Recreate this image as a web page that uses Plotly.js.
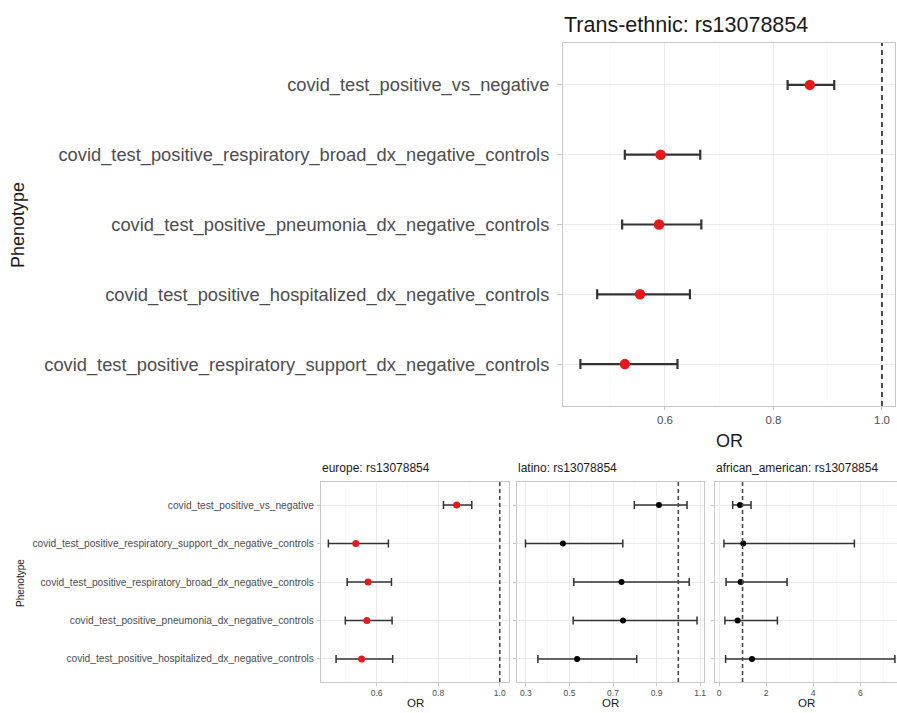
<!DOCTYPE html>
<html>
<head>
<meta charset="utf-8">
<script src="https://cdn.plot.ly/plotly-3.0.1.min.js"></script>
<style>html,body{margin:0;padding:0;background:#fff;}#chart{width:897px;height:713px;}</style>
</head>
<body>
<div id="chart"></div>
<script>
// ---- Data ----
const topCats = [
  "covid_test_positive_vs_negative",
  "covid_test_positive_respiratory_broad_dx_negative_controls",
  "covid_test_positive_pneumonia_dx_negative_controls",
  "covid_test_positive_hospitalized_dx_negative_controls",
  "covid_test_positive_respiratory_support_dx_negative_controls"
];
const topOR = [0.867, 0.592, 0.589, 0.554, 0.526];
const topLo = [0.826, 0.526, 0.521, 0.475, 0.444];
const topHi = [0.912, 0.665, 0.667, 0.646, 0.623];

const subCats = [
  "covid_test_positive_vs_negative",
  "covid_test_positive_respiratory_support_dx_negative_controls",
  "covid_test_positive_respiratory_broad_dx_negative_controls",
  "covid_test_positive_pneumonia_dx_negative_controls",
  "covid_test_positive_hospitalized_dx_negative_controls"
];
const eurOR = [0.860, 0.532, 0.572, 0.568, 0.551];
const eurLo = [0.817, 0.443, 0.504, 0.498, 0.468];
const eurHi = [0.909, 0.638, 0.648, 0.650, 0.652];

const latOR = [0.911, 0.470, 0.739, 0.746, 0.535];
const latLo = [0.798, 0.298, 0.520, 0.517, 0.355];
const latHi = [1.040, 0.745, 1.050, 1.086, 0.809];

const afrOR = [0.89, 1.03, 0.92, 0.79, 1.40];
const afrLo = [0.58, 0.21, 0.30, 0.25, 0.28];
const afrHi = [1.36, 5.75, 2.89, 2.48, 7.47];

const panelTitles = ["Trans-ethnic: rs13078854", "europe: rs13078854", "latino: rs13078854", "african_american: rs13078854"];

// ---- Helpers ----
const W = 897, H = 713;
const px = v => v / W;
const py = v => 1 - v / H;
const FONT = "Liberation Sans, Arial, sans-serif";

function trace(cats, or, lo, hi, xa, ya, color, size, thick, capw) {
  return {
    type: "scatter", mode: "markers",
    x: or, y: cats, xaxis: xa, yaxis: ya,
    marker: {color: color, size: size},
    error_x: {
      type: "data", symmetric: false,
      array: or.map((v, i) => hi[i] - v),
      arrayminus: or.map((v, i) => v - lo[i]),
      color: "#333333", thickness: thick, width: capw
    },
    showlegend: false, hoverinfo: "x+y"
  };
}

const data = [
  trace(topCats, topOR, topLo, topHi, "x", "y", "#e41a1c", 10.5, 2.2, 5),
  trace(subCats, eurOR, eurLo, eurHi, "x2", "y2", "#e41a1c", 7, 1.5, 4),
  trace(subCats, latOR, latLo, latHi, "x3", "y3", "#000000", 6, 1.5, 4),
  trace(subCats, afrOR, afrLo, afrHi, "x4", "y4", "#000000", 6, 1.5, 4)
];

function xax(dom, range, dtick, tick0, mdtick, anchor, fs) {
  return {
    domain: dom, range: range, anchor: anchor,
    dtick: dtick, tick0: tick0, tickformat: dtick >= 1 ? "d" : ".1f",
    showgrid: true, gridcolor: "#ebebeb", gridwidth: 1,
    minor: {dtick: mdtick, tick0: tick0, showgrid: true, gridcolor: "#f5f5f5", gridwidth: 0.6, ticks: ""},
    zeroline: false,
    showline: true, mirror: true, linecolor: "#c8c8c8", linewidth: 1,
    ticks: "outside", ticklen: 3, tickcolor: "#c8c8c8",
    tickfont: {family: FONT, size: fs, color: "#4d4d4d"},
    fixedrange: true
  };
}
function yax(dom, anchor, showLabels, fs, tl, standoff) {
  return {
    domain: dom, anchor: anchor, type: "category",
    range: [4.6, -0.6],
    showgrid: true, gridcolor: "#ebebeb", gridwidth: 1,
    zeroline: false,
    showline: true, mirror: true, linecolor: "#c8c8c8", linewidth: 1,
    ticks: "outside", ticklen: tl, tickcolor: "#c8c8c8",
    ticklabelstandoff: standoff,
    showticklabels: showLabels,
    tickfont: {family: FONT, size: fs, color: "#4d4d4d"},
    fixedrange: true
  };
}

const topY = [py(406), py(43)];
const botY = [py(682), py(482)];

const layout = {
  width: W, height: H,
  margin: {l: 0, r: 0, t: 0, b: 0},
  paper_bgcolor: "#ffffff", plot_bgcolor: "#ffffff",
  font: {family: FONT},
  showlegend: false,
  xaxis: xax([px(563), px(895)], [0.412, 1.024], 0.2, 0, 0.1, "y", 11.5),
  yaxis: yax(topY, "x", true, 18.3, 5, 4),
  xaxis2: xax([px(321), px(509)], [0.419, 1.030], 0.2, 0, 0.1, "y2", 8.5),
  yaxis2: yax(botY, "x2", true, 10.2, 3, 1),
  xaxis3: xax([px(517), px(704)], [0.259, 1.118], 0.2, 0.3, 0.1, "y3", 8.5),
  yaxis3: yax(botY, "x3", false, 10.2, 3, 1),
  xaxis4: xax([px(715), 1], [-0.17, 7.56], 2, 0, 1, "y4", 8.5),
  yaxis4: yax(botY, "x4", false, 10.2, 3, 1),
  shapes: ["x", "x2", "x3", "x4"].map((xa, i) => ({
    type: "line", xref: xa, yref: (i === 0 ? "y" : "y" + (i + 1)) + " domain",
    x0: 1, x1: 1, y0: 0, y1: 1,
    line: {color: "#4a4a4a", width: i === 0 ? 2 : 1.6, dash: i === 0 ? "5px,4px" : "4px,3px"}
  })),
  annotations: [
    {text: panelTitles[0], x: px(562), y: py(25), xref: "paper", yref: "paper", xanchor: "left", yanchor: "middle", showarrow: false, font: {family: FONT, size: 21.5, color: "#1a1a1a"}},
    {text: panelTitles[1], x: px(320), y: py(468), xref: "paper", yref: "paper", xanchor: "left", yanchor: "middle", showarrow: false, font: {family: FONT, size: 12, color: "#1a1a1a"}},
    {text: panelTitles[2], x: px(516), y: py(468), xref: "paper", yref: "paper", xanchor: "left", yanchor: "middle", showarrow: false, font: {family: FONT, size: 12, color: "#1a1a1a"}},
    {text: panelTitles[3], x: px(714), y: py(468), xref: "paper", yref: "paper", xanchor: "left", yanchor: "middle", showarrow: false, font: {family: FONT, size: 12, color: "#1a1a1a"}},
    {text: "OR", x: px(729), y: py(441), xref: "paper", yref: "paper", xanchor: "center", yanchor: "middle", showarrow: false, font: {family: FONT, size: 18, color: "#1a1a1a"}},
    {text: "OR", x: px(415), y: py(703), xref: "paper", yref: "paper", xanchor: "center", yanchor: "middle", showarrow: false, font: {family: FONT, size: 11.5, color: "#1a1a1a"}},
    {text: "OR", x: px(610), y: py(703), xref: "paper", yref: "paper", xanchor: "center", yanchor: "middle", showarrow: false, font: {family: FONT, size: 11.5, color: "#1a1a1a"}},
    {text: "OR", x: px(806), y: py(703), xref: "paper", yref: "paper", xanchor: "center", yanchor: "middle", showarrow: false, font: {family: FONT, size: 11.5, color: "#1a1a1a"}},
    {text: "Phenotype", x: px(18), y: py(225), xref: "paper", yref: "paper", xanchor: "center", yanchor: "middle", textangle: -90, showarrow: false, font: {family: FONT, size: 18, color: "#1a1a1a"}},
    {text: "Phenotype", x: px(20), y: py(583), xref: "paper", yref: "paper", xanchor: "center", yanchor: "middle", textangle: -90, showarrow: false, font: {family: FONT, size: 10, color: "#1a1a1a"}}
  ]
};

Plotly.newPlot("chart", data, layout, {displayModeBar: false, staticPlot: true});
</script>
</body>
</html>
